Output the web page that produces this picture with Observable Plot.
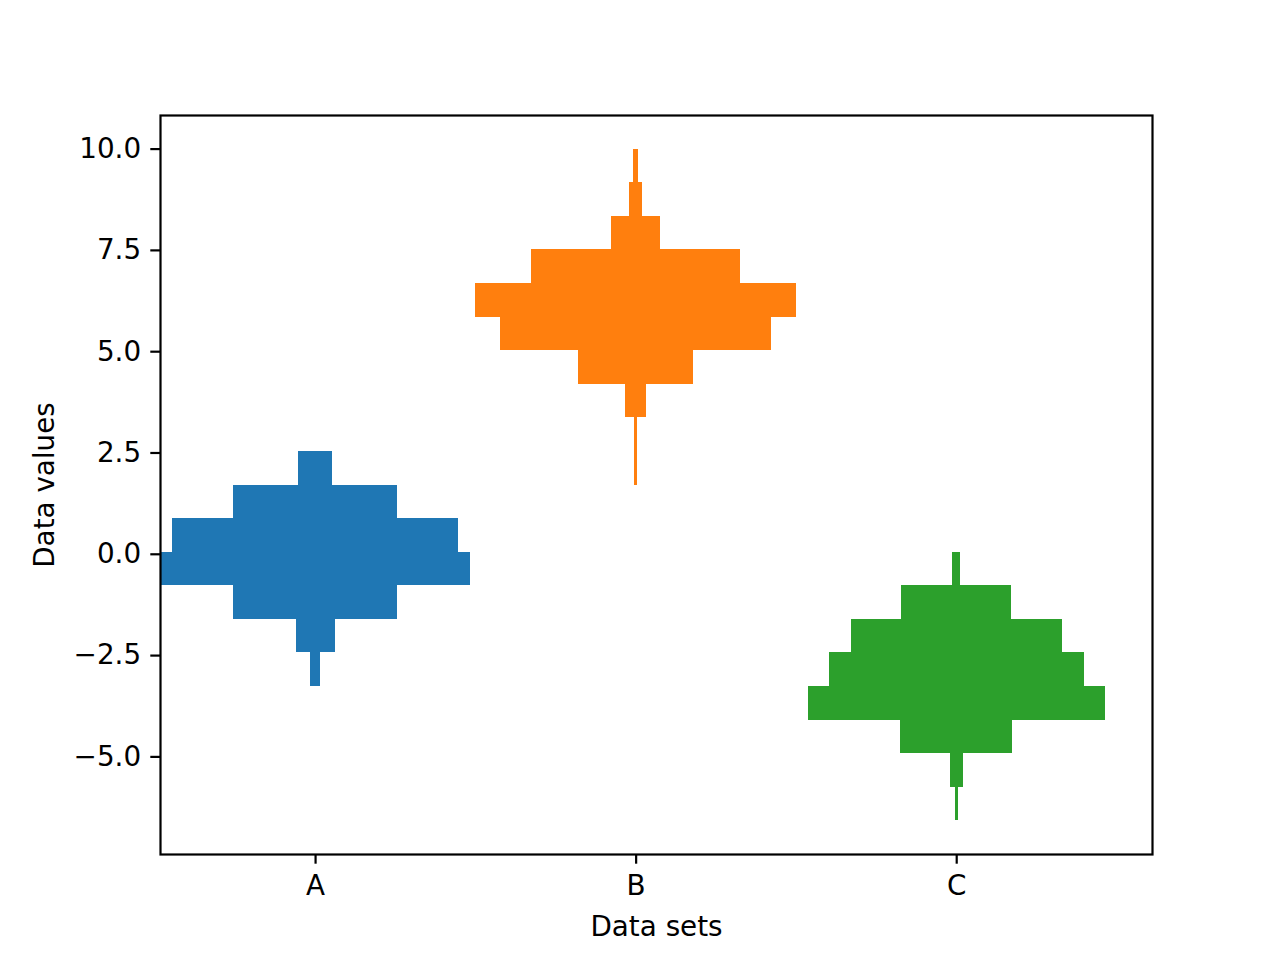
<!DOCTYPE html>
<html>
<head>
<meta charset="utf-8">
<script src="https://cdn.jsdelivr.net/npm/d3@7"></script>
<script src="https://cdn.jsdelivr.net/npm/@observablehq/plot@0.6"></script>
<style>
  body { margin: 0; background: #fff; }
  #chart svg { display: block; }
</style>
</head>
<body>
<div id="chart"></div>
<script>
// histogramas lado a lado, 20 bins compartidos
const labels = ["A", "B", "C"]
const colors = ["#1f77b4", "#ff7f0e", "#2ca02c"]
const binLo = -6.58
const binHi = 10.0
const nBins = 20

// conteos por bin (de abajo hacia arriba)
const countsA = [0, 0, 0, 0, 4, 15, 63, 119, 110, 63, 13, 0, 0, 0, 0, 0, 0, 0, 0, 0]
const countsB = [0, 0, 0, 0, 0, 0, 0, 0, 0, 0, 1, 1, 8, 44, 104, 123, 80, 19, 5, 2]
const countsC = [1, 5, 43, 114, 98, 81, 42, 3, 0, 0, 0, 0, 0, 0, 0, 0, 0, 0, 0, 0]

const yTicks = [-5, -2.5, 0, 2.5, 5, 7.5, 10]

const allCounts = [countsA, countsB, countsC]
const binW = (binHi - binLo) / nBins
const maxCount = d3.max(allCounts.flat())
const locs = labels.map((d, i) => i * maxCount)

let rows = []
allCounts.forEach((counts, i) => {
  counts.forEach((c, k) => {
    if (c > 0) rows.push({
      set: labels[i],
      x1: locs[i] - c / 2,
      x2: locs[i] + c / 2,
      y1: binLo + k * binW,
      y2: binLo + (k + 1) * binW
    })
  })
})

// limites como matplotlib: borde izquierdo fijo, margen 5% a la derecha y en y
const xmin = d3.min(rows, d => d.x1)
const xmax = d3.max(rows, d => d.x2)
const xlim = [xmin, xmax + 0.05 * (xmax - xmin)]
const ylim = [binLo - 0.05 * (binHi - binLo), binHi + 0.05 * (binHi - binLo)]

let chart = Plot.plot({
  width: 1280,
  height: 960,
  marginLeft: 160,
  marginRight: 128,
  marginTop: 115,
  marginBottom: 106,
  style: {fontFamily: "DejaVu Sans", fontSize: "27.8px", background: "white", color: "black"},
  x: {domain: xlim},
  y: {domain: ylim},
  color: {domain: labels, range: colors},
  marks: [
    Plot.rect(rows, {x1: "x1", x2: "x2", y1: "y1", y2: "y2", fill: "set", shapeRendering: "crispEdges"}),
    Plot.frame({stroke: "black", strokeWidth: 2.2}),
    Plot.axisY(yTicks, {
      tickSize: 9.7, tickPadding: 9.7, strokeWidth: 2.2,
      tickFormat: d3.format(".1f"), fontSize: 27.8, label: null
    }),
    Plot.axisX(locs, {
      tickSize: 9.7, tickPadding: 11.5, strokeWidth: 2.2,
      tickFormat: (d, i) => labels[i], fontSize: 27.8, label: null
    }),
    Plot.text(["Data sets"], {frameAnchor: "bottom", text: d => d, dy: 73, lineAnchor: "middle", fontSize: 27.8}),
    Plot.text(["Data values"], {frameAnchor: "left", text: d => d, dx: -115, rotate: -90, textAnchor: "middle", lineAnchor: "middle", fontSize: 27.8})
  ]
})

d3.select('#chart').append(() => chart)
</script>
</body>
</html>
